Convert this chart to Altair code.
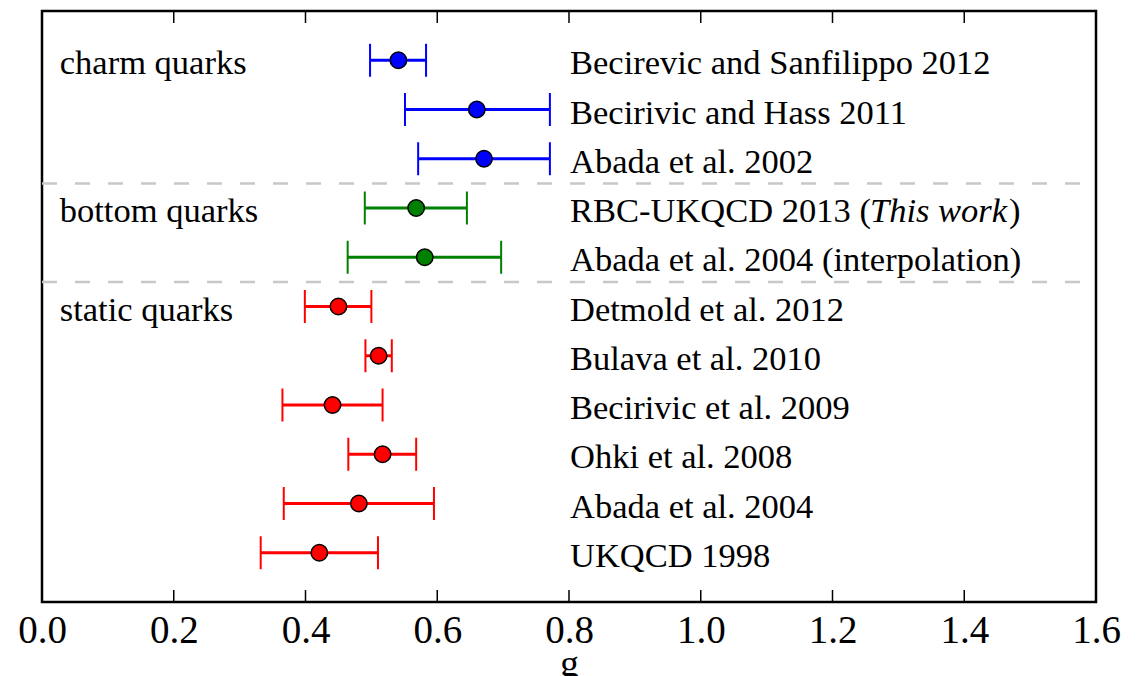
import altair as alt
import pandas as pd

# Lattice determinations of the B*Bπ / D*Dπ coupling g
studies = [
    "Becirevic and Sanfilippo 2012",
    "Becirivic and Hass 2011",
    "Abada et al. 2002",
    "RBC-UKQCD 2013 (",
    "Abada et al. 2004 (interpolation)",
    "Detmold et al. 2012",
    "Bulava et al. 2010",
    "Becirivic et al. 2009",
    "Ohki et al. 2008",
    "Abada et al. 2004",
    "UKQCD 1998",
]
quark = ["charm"] * 3 + ["bottom"] * 2 + ["static"] * 6
g_central = [0.541, 0.660, 0.671, 0.568, 0.581, 0.450, 0.511, 0.441, 0.517, 0.481, 0.421]
g_low = [0.498, 0.551, 0.571, 0.490, 0.464, 0.399, 0.491, 0.365, 0.465, 0.367, 0.332]
g_high = [0.583, 0.771, 0.771, 0.645, 0.697, 0.500, 0.531, 0.517, 0.568, 0.595, 0.510]
rows = list(range(len(studies)))

group_names = ["charm quarks", "bottom quarks", "static quarks"]
group_rows = [0, 3, 5]
separator_rows = [2.5, 4.5]
tick_values = [0.0, 0.2, 0.4, 0.6, 0.8, 1.0, 1.2, 1.4, 1.6]

quark_colors = {"charm": "#0000ff", "bottom": "#008000", "static": "#ff0000"}

W, H = 1054, 591
FONT = "Liberation Serif"
TEXT_SIZE = 34.5
TICK_LEN = 12

df = pd.DataFrame({
    "study": studies, "quark": quark, "g": g_central,
    "lo": g_low, "hi": g_high, "row": rows,
})
groups = pd.DataFrame({"name": group_names, "row": group_rows})
seps = pd.DataFrame({"row": separator_rows})
ticks = pd.DataFrame({"t": tick_values})

xscale = alt.Scale(domain=[0, 1.6], nice=False, zero=False)
yscale = alt.Scale(domain=[-1, 11], reverse=True, nice=False, zero=False)
cscale = alt.Scale(domain=list(quark_colors), range=list(quark_colors.values()))

x_axis = alt.Axis(
    values=tick_values, format=".1f", ticks=False, domain=False, grid=False,
    labelFlush=False, labelFont=FONT, labelFontSize=39, labelColor="black",
    labelPadding=9,
    title="g", titleFont=FONT, titleFontSize=38, titleFontWeight="normal",
    titleColor="black", titlePadding=-5,
)

base = alt.Chart(df)

separators = alt.Chart(seps).mark_rule(
    color="#c8c8c8", strokeWidth=2.5, strokeDash=[15, 18]
).encode(
    y=alt.Y("row:Q", scale=yscale, axis=None),
    x=alt.value(0), x2=alt.value(W),
)

bars = base.mark_rule(strokeWidth=3).encode(
    x=alt.X("lo:Q", scale=xscale, axis=x_axis),
    x2="hi:Q",
    y=alt.Y("row:Q", scale=yscale, axis=None),
    color=alt.Color("quark:N", scale=cscale, legend=None),
)

caps = base.transform_fold(["lo", "hi"], as_=["end", "gv"]).mark_tick(
    orient="vertical", size=33, thickness=2, opacity=1
).encode(
    x=alt.X("gv:Q", scale=xscale),
    y=alt.Y("row:Q", scale=yscale),
    color=alt.Color("quark:N", scale=cscale, legend=None),
)

points = base.mark_circle(size=270, stroke="black", strokeWidth=1.5, opacity=1).encode(
    x=alt.X("g:Q", scale=xscale),
    y=alt.Y("row:Q", scale=yscale),
    fill=alt.Fill("quark:N", scale=cscale, legend=None),
)

labels = base.mark_text(
    align="left", baseline="middle", font=FONT, fontSize=TEXT_SIZE, color="black", dx=1, dy=4
).encode(
    x=alt.datum(0.8, scale=xscale),
    y=alt.Y("row:Q", scale=yscale),
    text="study:N",
)

this_work = alt.Chart(pd.DataFrame({"row": [3], "txt": ["This work"]})).mark_text(
    align="left", baseline="middle", font=FONT, fontSize=TEXT_SIZE, fontStyle="italic",
    color="black", dx=301, dy=4
).encode(
    x=alt.datum(0.8, scale=xscale),
    y=alt.Y("row:Q", scale=yscale),
    text="txt:N",
)

close_paren = alt.Chart(pd.DataFrame({"row": [3], "txt": [")"]})).mark_text(
    align="left", baseline="middle", font=FONT, fontSize=TEXT_SIZE,
    color="black", dx=440, dy=4
).encode(
    x=alt.datum(0.8, scale=xscale),
    y=alt.Y("row:Q", scale=yscale),
    text="txt:N",
)

group_text = alt.Chart(groups).mark_text(
    align="left", baseline="middle", font=FONT, fontSize=TEXT_SIZE, color="black", dy=4
).encode(
    x=alt.datum(0.027, scale=xscale),
    y=alt.Y("row:Q", scale=yscale),
    text="name:N",
)

ticks_bottom = alt.Chart(ticks).mark_rule(color="black", strokeWidth=1.5).encode(
    x=alt.X("t:Q", scale=xscale),
    y=alt.value(H - TICK_LEN), y2=alt.value(H),
)
ticks_top = alt.Chart(ticks).mark_rule(color="black", strokeWidth=1.5).encode(
    x=alt.X("t:Q", scale=xscale),
    y=alt.value(0), y2=alt.value(TICK_LEN),
)

chart = alt.layer(
    separators, bars, caps, points, labels, this_work, close_paren, group_text,
    ticks_bottom, ticks_top,
).properties(
    width=W, height=H,
    autosize=alt.AutoSizeParams(type="none"),
    padding={"left": 42, "top": 11, "right": 46, "bottom": 74},
    background="white",
).configure_view(
    stroke="black", strokeWidth=2.5
)

chart.save("out.html", embed_options={"renderer": "svg", "actions": False})
